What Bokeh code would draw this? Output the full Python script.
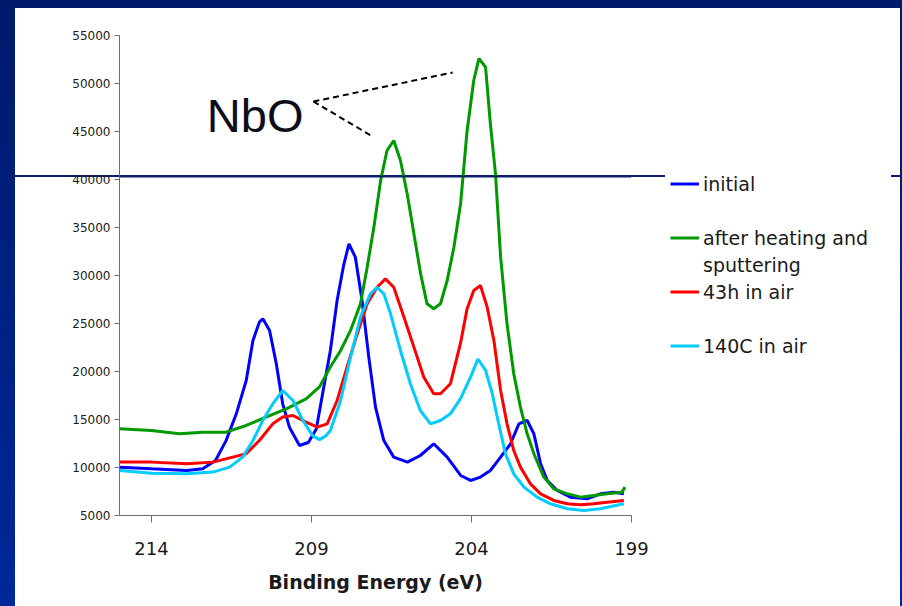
from bokeh.plotting import figure
from bokeh.models import Range1d, FixedTicker, Label, Span, Legend, LegendItem
from bokeh.embed import file_html
from bokeh.resources import INLINE

# ---- data (binding energy in eV, counts) ----
blue_x = [215.0, 214.0, 212.9, 212.4, 212.0, 211.67, 211.35, 211.04, 210.83, 210.63, 210.52,
          210.31, 210.1, 209.9, 209.69, 209.375, 209.1, 208.85, 208.61, 208.41, 208.2, 208.0,
          207.83, 207.63, 207.42, 207.21, 207.0, 206.74, 206.43, 206.0, 205.6, 205.18, 204.76,
          204.34, 204.03, 203.72, 203.41, 203.09, 202.78, 202.52, 202.26, 202.05, 201.84,
          201.63, 201.32, 200.91, 200.39, 199.97, 199.55, 199.24]
blue_y = [10035, 9860, 9690, 9860, 10730, 12800, 15590, 19060, 23230, 25140, 25490,
          24270, 20800, 16630, 14200, 12290, 12600, 14000, 18500, 22190, 27400, 31000,
          33300, 31910, 27400, 21500, 16290, 12810, 11080, 10560, 11250, 12470, 11080,
          9170, 8650, 9000, 9690, 11080, 12470, 14550, 14900, 13510, 10380,
          8650, 7610, 6910, 6740, 7260, 7430, 7260]

green_x = [215.0, 214.0, 213.13, 212.4, 211.67, 211.04, 210.42, 209.79, 209.17, 208.75, 208.41,
           208.09, 207.78, 207.47, 207.26, 207.05, 206.84, 206.64, 206.43, 206.22, 206.01,
           205.8, 205.59, 205.39, 205.18, 204.97, 204.76, 204.55, 204.34, 204.14, 203.93,
           203.77, 203.56, 203.41, 203.25, 203.09, 202.89, 202.68, 202.47, 202.26, 202.05,
           201.74, 201.43, 201.01, 200.59, 200.18, 199.76, 199.3, 199.2]
green_y = [14030, 13850, 13510, 13680, 13680, 14380, 15250, 16110, 17150, 18400, 20460,
           22190, 24280, 27050, 30870, 35040, 39900, 43020, 44060, 41980, 38510,
           34340, 30180, 27050, 26530, 27050, 29480, 32950, 37500, 45000, 50310,
           52600, 51700, 45800, 40590, 31910, 24970, 19760, 16290, 13510, 11430,
           9000, 7780, 7260, 6910, 7090, 7260, 7430, 7950]

red_x = [215.0, 214.0, 212.9, 212.08, 211.46, 211.04, 210.63, 210.21, 209.9, 209.58, 209.17,
         208.82, 208.51, 208.2, 207.89, 207.57, 207.26, 206.95, 206.69, 206.43, 206.11,
         205.8, 205.49, 205.18, 204.97, 204.66, 204.34, 204.14, 203.93, 203.72, 203.51,
         203.3, 203.09, 202.89, 202.68, 202.47, 202.16, 201.84, 201.43, 201.01, 200.59,
         200.18, 199.76, 199.24]
red_y = [10560, 10560, 10380, 10560, 11080, 11430, 12810, 14550, 15250, 15420, 14720,
         14200, 14550, 16980, 20460, 23930, 27050, 28780, 29650, 28780, 25660,
         22540, 19410, 17680, 17680, 18720, 23000, 26500, 28440, 28960, 26700,
         23230, 18020, 14550, 11770, 10040, 8300, 7260, 6570, 6220, 6120,
         6220, 6390, 6570]

cyan_x = [215.0, 214.0, 212.9, 212.08, 211.56, 211.15, 210.83, 210.52, 210.21, 209.9, 209.58,
          209.27, 208.96, 208.75, 208.55, 208.41, 208.09, 207.78, 207.47, 207.16, 206.95,
          206.74, 206.53, 206.22, 205.91, 205.6, 205.28, 204.97, 204.66, 204.34, 204.03,
          203.8, 203.56, 203.35, 203.15, 202.94, 202.68, 202.36, 201.95, 201.53, 201.01,
          200.49, 199.97, 199.24]
cyan_y = [9690, 9410, 9340, 9520, 10035, 11080, 12810, 14900, 16630, 18020, 16980,
          14900, 13300, 12900, 13300, 13860, 16980, 21500, 25660, 28090, 28780,
          28090, 26010, 22190, 18720, 15940, 14550, 14900, 15590, 17200, 19410,
          21300, 20110, 17680, 14550, 11430, 9340, 7950, 6910, 6220, 5700,
          5520, 5700, 6220]

series_names = ["initial", "after heating and", "43h in air", "140C in air"]
label_second_line = "sputtering"
series_colors = ["#0000ff", "#009900", "#ff0000", "#00ccff"]

x_ticks = [214, 209, 204, 199]
y_ticks = [5000, 10000, 15000, 20000, 25000, 30000, 35000, 40000, 45000, 50000, 55000]

# NbO annotation (data coordinates)
nbo_text_x, nbo_text_y = 212.27, 46700
nbo_x0 = [208.94, 208.94]
nbo_y0 = [48125, 48125]
nbo_x1 = [204.59, 207.09]
nbo_y1 = [51146, 44479]
rule_y = 40312  # slide's horizontal rule

navy_line = "#0d1f6b"
slide_bg = (
    f"linear-gradient({navy_line},{navy_line}) 15px 175px / 650px 2px no-repeat, "
    f"linear-gradient({navy_line},{navy_line}) 891px 175px / 9px 2px no-repeat, "
    "linear-gradient(#ffffff,#ffffff) 15px 8px / 885px 598px no-repeat, "
    "linear-gradient(to bottom, #001a6b, #00289a)"
)

p = figure(frame_width=512, frame_height=480, output_backend="svg", toolbar_location=None,
           x_range=Range1d(215, 199), y_range=Range1d(5000, 55000),
           min_border_left=119, min_border_right=271, min_border_top=35, min_border_bottom=91,
           styles={"background": slide_bg})
p.outline_line_color = None
p.xgrid.visible = False
p.ygrid.visible = False
p.background_fill_alpha = 0
p.border_fill_alpha = 0

# axes
p.xaxis.ticker = FixedTicker(ticks=x_ticks)
p.yaxis.ticker = FixedTicker(ticks=y_ticks)
p.xaxis.minor_tick_line_color = None
p.yaxis.minor_tick_line_color = None
for ax in (p.xaxis, p.yaxis):
    ax.axis_line_color = "#6e6e6e"
    ax.major_tick_line_color = "#6e6e6e"
    ax.major_tick_in = 0
    ax.major_label_text_color = "#1a1a1a"
p.yaxis.major_tick_out = 5
p.xaxis.major_tick_out = 7
p.yaxis.major_label_text_font = "DejaVu Sans"
p.yaxis.major_label_text_font_size = "12px"
p.yaxis.major_label_standoff = 4
p.xaxis.major_label_text_font = "DejaVu Sans"
p.xaxis.major_label_text_font_size = "18px"
p.xaxis.major_label_standoff = 19
p.xaxis.axis_label = "Binding Energy (eV)"
p.xaxis.axis_label_text_font = "DejaVu Sans"
p.xaxis.axis_label_text_font_style = "bold"
p.xaxis.axis_label_text_font_size = "19px"
p.xaxis.axis_label_text_color = "#1a1a1a"
p.xaxis.axis_label_standoff = 13

# curves
renderers = []
for xs, ys, c in [(blue_x, blue_y, series_colors[0]), (green_x, green_y, series_colors[1]),
                  (red_x, red_y, series_colors[2]), (cyan_x, cyan_y, series_colors[3])]:
    renderers.append(p.line(xs, ys, line_color=c, line_width=3))

# slide's horizontal rule across the plot area (drawn over the curves)
p.add_layout(Span(location=rule_y, dimension="width", line_color=navy_line,
                  line_width=2, level="overlay"))

# NbO annotation
p.segment(x0=nbo_x0, y0=nbo_y0, x1=nbo_x1, y1=nbo_y1, line_color="black",
          line_width=2, line_dash="6 4")
p.add_layout(Label(x=nbo_text_x, y=nbo_text_y, text="NbO", text_font="Liberation Sans",
                   text_font_size="47px", text_color="#0d0d1a", text_baseline="alphabetic"))

# legend (blank rows reproduce the original spacing)
blank = p.line([], [], line_alpha=0)
items = [
    LegendItem(label=series_names[0], renderers=[renderers[0]]),
    LegendItem(label=" ", renderers=[blank]),
    LegendItem(label=series_names[1], renderers=[renderers[1]]),
    LegendItem(label=label_second_line, renderers=[blank]),
    LegendItem(label=series_names[2], renderers=[renderers[2]]),
    LegendItem(label="  ", renderers=[blank]),
    LegendItem(label=series_names[3], renderers=[renderers[3]]),
]
legend = Legend(items=items, location="top_left", margin=39, padding=0, spacing=0,
                title=" ", title_text_font_size="19px", title_standoff=74,
                label_height=27, glyph_height=27, glyph_width=29, label_standoff=4,
                label_text_font="DejaVu Sans", label_text_font_size="19px",
                label_text_color="#1a1a1a", border_line_color=None,
                background_fill_alpha=0)
p.add_layout(legend, "right")

open("out.html", "w").write(file_html(p, INLINE))
